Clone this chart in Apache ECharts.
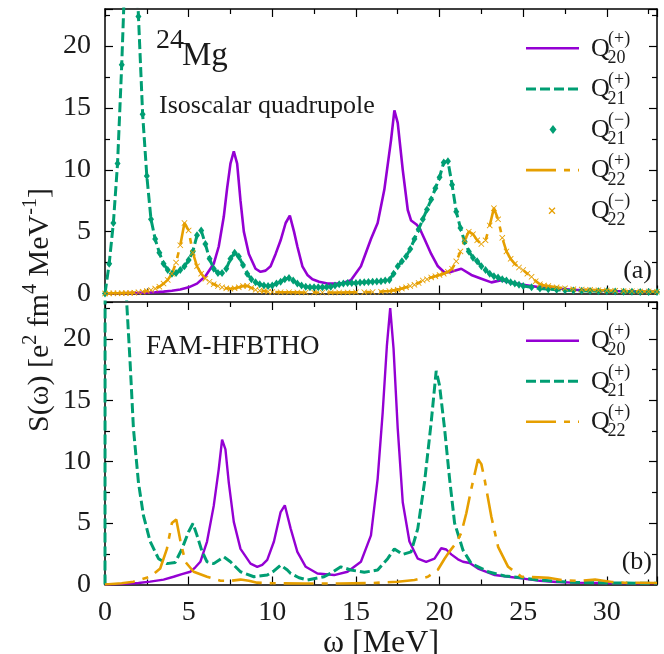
<!DOCTYPE html>
<html><head><meta charset="utf-8">
<script src="https://cdn.jsdelivr.net/npm/echarts@6/dist/echarts.min.js"></script>
<style>html,body{margin:0;padding:0;background:#fff}#c{width:664px;height:654px}</style>
</head><body><div id="c"></div>
<script>
// ---------- data (omega [MeV], S) ----------
// panel (a)
const q20a = [[0,0],[1,0.02],[2,0.05],[3,0.1],[3.5,0.15],[4,0.22],[4.5,0.32],[5,0.5],[5.5,0.8],[6,1.4],[6.5,2.4],[6.8,3.8],[7.1,6.2],[7.3,8.5],[7.5,10.5],[7.7,11.5],[7.9,10.5],[8.1,7.5],[8.3,5.0],[8.6,3.2],[9,2.0],[9.3,1.75],[9.6,1.85],[9.9,2.2],[10.2,3.2],[10.5,4.3],[10.8,5.7],[11.05,6.3],[11.3,5.0],[11.5,3.8],[11.8,2.2],[12.1,1.5],[12.4,1.15],[12.8,0.95],[13.3,0.8],[14.1,0.8],[14.7,1.08],[15.3,2.2],[15.9,4.4],[16.3,5.7],[16.7,8.4],[17.1,12.4],[17.3,14.8],[17.5,13.8],[17.8,10.0],[18.1,6.75],[18.3,5.9],[18.6,5.6],[18.8,5.3],[19.1,4.4],[19.5,3.2],[19.9,2.2],[20.3,1.7],[20.7,1.75],[21.3,2.0],[21.9,1.5],[22.5,1.2],[23.1,0.9],[23.7,1.08],[24.2,0.9],[25,0.7],[26,0.5],[27,0.4],[28,0.3],[29,0.25],[30,0.2],[31,0.18],[32,0.15],[33,0.13]];
const q21a = [[0,0],[0.25,2.4],[0.5,5.7],[0.75,10.5],[1,18.5],[1.25,28],[1.5,34],[1.75,30],[2,22.4],[2.25,14.5],[2.5,9.5],[2.75,6.0],[3,4.4],[3.25,3.3],[3.5,2.4],[3.75,1.9],[4,1.6],[4.25,1.65],[4.5,1.9],[4.75,2.2],[5,2.7],[5.25,3.4],[5.5,4.7],[5.75,5.1],[6,4.0],[6.25,2.8],[6.5,2.0],[6.75,1.65],[7,1.65],[7.25,2.0],[7.5,2.8],[7.75,3.3],[8,3.0],[8.25,2.3],[8.5,1.6],[8.75,1.15],[9,0.9],[9.25,0.75],[9.5,0.65],[9.75,0.6],[10,0.65],[10.25,0.8],[10.5,0.95],[10.75,1.15],[11,1.25],[11.25,1.05],[11.5,0.8],[11.75,0.65],[12,0.55],[12.25,0.5],[12.5,0.5],[12.75,0.5],[13,0.5],[13.25,0.52],[13.5,0.55],[13.75,0.65],[14,0.75],[14.25,0.8],[14.5,0.85],[14.75,0.85],[15,0.85],[15.25,0.88],[15.5,0.9],[15.75,0.92],[16,0.95],[16.25,0.97],[16.5,1.0],[16.75,1.05],[17,1.1],[17.25,1.6],[17.5,2.2],[17.75,2.6],[18,3.0],[18.25,3.6],[18.5,4.4],[18.75,5.2],[19,6.0],[19.25,6.8],[19.5,7.6],[19.75,8.5],[20,9.4],[20.25,10.6],[20.5,10.7],[20.75,8.8],[21,6.6],[21.25,5.3],[21.5,4.2],[21.75,3.4],[22,2.9],[22.25,2.6],[22.5,2.2],[22.75,1.9],[23,1.6],[23.25,1.4],[23.5,1.3],[23.75,1.15],[24,1.05],[24.25,0.9],[24.5,0.8],[24.75,0.7],[25,0.6],[25.5,0.5],[26,0.4],[26.5,0.35],[27,0.3],[27.5,0.27],[28,0.25],[28.5,0.22],[29,0.2],[29.5,0.19],[30,0.18],[30.5,0.17],[31,0.15],[31.5,0.14],[32,0.13],[32.5,0.12],[33,0.12]];
const q21aMinus = q21a; // Q21(-) coincides with Q21(+)
const q22a = [[0,0],[0.25,0.01],[0.5,0.02],[0.75,0.02],[1,0.03],[1.25,0.04],[1.5,0.05],[1.75,0.07],[2,0.1],[2.25,0.14],[2.5,0.2],[2.75,0.28],[3,0.4],[3.25,0.55],[3.5,0.8],[3.75,1.1],[4,1.6],[4.25,2.5],[4.5,3.9],[4.75,5.7],[5,5.1],[5.25,3.3],[5.5,2.2],[5.75,1.6],[6,1.2],[6.25,0.95],[6.5,0.75],[6.75,0.6],[7,0.5],[7.25,0.42],[7.5,0.38],[7.75,0.42],[8,0.5],[8.25,0.6],[8.5,0.62],[8.75,0.45],[9,0.3],[9.25,0.24],[9.5,0.2],[9.75,0.15],[10,0.12],[10.5,0.1],[11,0.1],[11.5,0.09],[12,0.08],[12.5,0.08],[13,0.08],[13.5,0.08],[14,0.08],[14.5,0.09],[15,0.1],[15.5,0.11],[16,0.12],[16.5,0.15],[17,0.2],[17.25,0.25],[17.5,0.3],[17.75,0.4],[18,0.5],[18.25,0.6],[18.5,0.7],[18.75,0.85],[19,1.05],[19.25,1.15],[19.5,1.3],[19.75,1.4],[20,1.5],[20.25,1.6],[20.5,1.75],[20.75,2.0],[21,2.6],[21.25,3.4],[21.5,4.3],[21.75,5.0],[22,4.8],[22.25,4.3],[22.5,4.0],[22.75,4.3],[23,5.5],[23.25,6.9],[23.5,6.0],[23.75,4.5],[24,3.4],[24.25,2.8],[24.5,2.4],[24.75,2.1],[25,1.9],[25.25,1.6],[25.5,1.35],[25.75,1.0],[26,0.75],[26.25,0.65],[26.5,0.6],[27,0.5],[27.5,0.42],[28,0.35],[28.5,0.32],[29,0.3],[29.5,0.27],[30,0.25],[30.5,0.22],[31,0.2],[31.5,0.18],[32,0.17],[32.5,0.16],[33,0.15]];
const q22aMinus = q22a; // Q22(-) coincides with Q22(+)
// panel (b)
const q20b = [[0,0],[1,0.05],[2,0.12],[2.7,0.23],[3.5,0.4],[4.1,0.63],[4.6,0.85],[5.1,1.04],[5.4,1.4],[5.7,1.85],[6.1,3.5],[6.5,6.4],[6.8,9.4],[7.0,11.8],[7.2,11.0],[7.4,8.3],[7.7,5.1],[8.1,2.9],[8.7,1.7],[9.1,1.44],[9.4,1.6],[9.7,2.0],[10.1,3.5],[10.5,5.9],[10.75,6.45],[11.1,4.55],[11.5,2.66],[12.0,1.44],[12.7,0.9],[13.7,0.77],[14.5,1.04],[15.3,1.85],[15.9,4.0],[16.3,8.6],[16.6,14.0],[16.85,19.4],[17.05,22.5],[17.25,19.2],[17.5,12.7],[17.8,6.7],[18.2,3.5],[18.7,2.1],[19.2,1.85],[19.7,2.1],[20.1,2.95],[20.4,2.85],[20.7,2.45],[21.1,2.05],[21.4,1.85],[21.8,1.75],[22.3,1.3],[23.3,0.77],[24.0,0.65],[24.9,0.5],[26,0.3],[27,0.2],[28,0.15],[30,0.12],[33,0.1]];
const q21b = [[0,0],[0.05,200],[0.5,90],[1.0,38],[1.3,22.9],[1.5,18.1],[1.7,12.7],[2.0,8.3],[2.3,5.6],[2.7,3.5],[3.2,2.1],[3.7,1.7],[4.2,1.8],[4.6,2.9],[5.0,4.3],[5.26,4.96],[5.5,4.0],[5.8,2.7],[6.1,1.85],[6.5,1.7],[7.1,2.25],[7.5,1.85],[8.1,1.04],[8.9,0.63],[9.7,0.77],[10.1,1.1],[10.5,1.58],[10.9,1.18],[11.1,0.9],[11.6,0.55],[12.1,0.36],[13.1,0.63],[13.6,1.0],[14.1,1.44],[14.7,1.18],[15.5,0.99],[16.3,1.18],[16.9,2.1],[17.3,2.9],[17.8,2.45],[18.3,2.66],[18.7,4.55],[19.1,8.3],[19.5,13.2],[19.8,17.4],[20.0,16.2],[20.3,12.7],[20.6,8.6],[20.9,5.0],[21.4,2.8],[21.9,1.7],[22.9,1.04],[23.9,0.69],[24.9,0.55],[25.9,0.36],[27.9,0.18],[30,0.12],[33,0.1]];
const q22b = [[0,0],[1,0.1],[1.7,0.23],[2.7,0.63],[3.3,1.3],[3.7,2.9],[4.0,5.0],[4.26,5.3],[4.5,3.6],[4.8,1.85],[5.3,1.04],[6.1,0.63],[6.9,0.31],[7.5,0.3],[8.1,0.4],[8.6,0.3],[9.1,0.15],[10,0.1],[12,0.08],[14,0.08],[16,0.12],[17.5,0.23],[18.5,0.36],[19.3,0.63],[19.9,1.2],[20.3,2.1],[20.6,2.7],[21.0,3.4],[21.3,4.2],[21.6,5.8],[21.9,7.8],[22.1,9.0],[22.3,10.2],[22.5,9.8],[22.7,8.5],[23.1,5.5],[23.5,3.07],[24.1,1.44],[24.9,0.63],[25.9,0.58],[26.5,0.55],[27.3,0.36],[28.3,0.3],[29.3,0.4],[30.3,0.2],[31,0.15],[33,0.12]];

const xRange = [0, 33], xStep = 5;
const yRange = [0, 23], yStep = 5;

// ---------- style ----------
const FONT = '"Liberation Serif","DejaVu Serif",serif';
const TXT = '#1a1a1a';
const C20 = '#9400D3', C21 = '#009E73', C22 = '#E69F00';
const DASH21 = [10, 4], DASH22 = [30, 8, 6, 8];
const CROSS = 'path://M0,1L1,0L5,4L9,0L10,1L6,5L10,9L9,10L5,6L1,10L0,9L4,5Z';

function xAx(gi, pos, labels, extra) {
  return Object.assign({
    type: 'value', gridIndex: gi, position: pos, min: xRange[0], max: xRange[1], interval: xStep,
    axisLine: {show: true, onZero: false, lineStyle: {color: '#000', width: 1.5}},
    axisTick: {show: true, inside: true, length: 8, lineStyle: {color: '#000', width: 1.2}},
    minorTick: {show: true, splitNumber: 2, length: 5, lineStyle: {color: '#000', width: 1.2}},
    splitLine: {show: false},
    axisLabel: {show: labels, margin: 14, fontFamily: FONT, fontSize: 28, color: TXT, showMaxLabel: false}
  }, extra || {});
}
function yAx(gi, pos, labels) {
  return {
    type: 'value', gridIndex: gi, position: pos, min: yRange[0], max: yRange[1], interval: yStep,
    axisLine: {show: true, onZero: false, lineStyle: {color: '#000', width: 1.5}},
    axisTick: {show: true, inside: true, length: 8, lineStyle: {color: '#000', width: 1.2}},
    minorTick: {show: true, splitNumber: 2, length: 5, lineStyle: {color: '#000', width: 1.2}},
    splitLine: {show: false},
    axisLabel: {show: labels, margin: 14, fontFamily: FONT, fontSize: 28, color: TXT, showMaxLabel: false}
  };
}
function line(name, data, gi, color, dash, width) {
  return {name, type: 'line', data, xAxisIndex: gi * 2, yAxisIndex: gi * 2, showSymbol: false, symbol: 'none',
    clip: true, smooth: false, lineStyle: {color, width, type: dash || 'solid', cap: 'butt'}, itemStyle: {color}, z: 2};
}
function pts(name, data, gi, color, symbol, size) {
  return {name, type: 'scatter', data, xAxisIndex: gi * 2, yAxisIndex: gi * 2, symbol, symbolSize: size,
    clip: true, itemStyle: {color, opacity: 1}, z: 3};
}

// ---------- legend (drawn as graphics) ----------
const legendRowsA = [
  {y: 48.3, kind: 'line', color: C20, dash: null, sup: '(+)', sub: '20'},
  {y: 88.9, kind: 'line', color: C21, dash: DASH21, sup: '(+)', sub: '21'},
  {y: 129.5, kind: 'diamond', color: C21, sup: '(\u2212)', sub: '21'},
  {y: 170.1, kind: 'line', color: C22, dash: DASH22, sup: '(+)', sub: '22'},
  {y: 210.7, kind: 'cross', color: C22, sup: '(\u2212)', sub: '22'}
];
const legendRowsB = [
  {y: 340.7, kind: 'line', color: C20, dash: null, sup: '(+)', sub: '20'},
  {y: 381.2, kind: 'line', color: C21, dash: DASH21, sup: '(+)', sub: '21'},
  {y: 421.7, kind: 'line', color: C22, dash: DASH22, sup: '(+)', sub: '22'}
];
function legendGraphics(rows) {
  const out = [];
  rows.forEach(r => {
    if (r.kind === 'line') {
      out.push({type: 'line', shape: {x1: 526, y1: r.y, x2: 579, y2: r.y},
        style: {stroke: r.color, lineWidth: r.color === C21 ? 3 : 2.6, lineDash: r.dash || null}});
    } else if (r.kind === 'diamond') {
      const cx = 553, cy = r.y;
      out.push({type: 'polygon', shape: {points: [[cx, cy - 4.5], [cx + 3.5, cy], [cx, cy + 4.5], [cx - 3.5, cy]]},
        style: {fill: r.color}});
    } else {
      const cx = 552, cy = r.y, d = 3;
      out.push({type: 'line', shape: {x1: cx - d, y1: cy - d, x2: cx + d, y2: cy + d}, style: {stroke: r.color, lineWidth: 1.3}});
      out.push({type: 'line', shape: {x1: cx - d, y1: cy + d, x2: cx + d, y2: cy - d}, style: {stroke: r.color, lineWidth: 1.3}});
    }
    out.push({type: 'text', x: 591, y: r.y + 0.5, style: {text: 'Q', font: '26px ' + FONT, fill: TXT, align: 'left', verticalAlign: 'middle'}});
    out.push({type: 'text', x: 608, y: r.y - 9, style: {text: r.sup, font: '18px ' + FONT, fill: TXT, align: 'left', verticalAlign: 'middle'}});
    out.push({type: 'text', x: 607.5, y: r.y + 10, style: {text: r.sub, font: '18px ' + FONT, fill: TXT, align: 'left', verticalAlign: 'middle'}});
  });
  return out;
}

const texts = [
  {type: 'text', x: 156, y: 40.5, style: {text: '24', font: '28px ' + FONT, fill: TXT, verticalAlign: 'middle'}},
  {type: 'text', x: 182, y: 56, style: {text: 'Mg', font: '33px ' + FONT, fill: TXT, verticalAlign: 'middle'}},
  {type: 'text', x: 159, y: 106.5, style: {text: 'Isoscalar quadrupole', font: '26px ' + FONT, fill: TXT, verticalAlign: 'middle'}},
  {type: 'text', x: 146, y: 346.5, style: {text: 'FAM-HFBTHO', font: '27px ' + FONT, fill: TXT, verticalAlign: 'middle'}},
  {type: 'text', x: 652, y: 271, style: {text: '(a)', font: '26px ' + FONT, fill: TXT, align: 'right', verticalAlign: 'middle'}},
  {type: 'text', x: 652, y: 562, style: {text: '(b)', font: '26px ' + FONT, fill: TXT, align: 'right', verticalAlign: 'middle'}},
  {type: 'text', x: 40, y: 310, rotation: Math.PI / 2, style: {
    text: '{n|S(\u03c9) [e}{s|2}{n| fm}{s|4}{n| MeV}{s|-1}{n|]}',
    align: 'center', verticalAlign: 'middle', fill: TXT,
    rich: {
      n: {fontFamily: FONT, fontSize: 30, lineHeight: 38, fill: TXT, verticalAlign: 'middle'},
      s: {fontFamily: FONT, fontSize: 20, lineHeight: 20, fill: TXT, verticalAlign: 'top'}
    }}}
];

const option = {
  animation: false,
  backgroundColor: '#fff',
  grid: [
    {left: 105, top: 9, width: 552, height: 284.5, containLabel: false, outerBoundsMode: 'none'},
    {left: 105, top: 302, width: 552, height: 282.5, containLabel: false, outerBoundsMode: 'none'}
  ],
  xAxis: [
    xAx(0, 'bottom', false),
    xAx(0, 'top', false),
    xAx(1, 'bottom', true, {name: '\u03c9 [MeV]', nameLocation: 'middle', nameGap: 36,
      nameTextStyle: {fontFamily: FONT, fontSize: 32, color: TXT}}),
    xAx(1, 'top', false)
  ],
  yAxis: [
    yAx(0, 'left', true), yAx(0, 'right', false),
    yAx(1, 'left', true), yAx(1, 'right', false)
  ],
  series: [
    line('Q20+ (a)', q20a, 0, C20, null, 2.6),
    line('Q21+ (a)', q21a, 0, C21, DASH21, 3),
    pts('Q21- (a)', q21aMinus, 0, C21, 'diamond', [6, 8]),
    line('Q22+ (a)', q22a, 0, C22, DASH22, 2.6),
    pts('Q22- (a)', q22aMinus, 0, C22, CROSS, 6),
    line('Q20+ (b)', q20b, 1, C20, null, 2.4),
    line('Q21+ (b)', q21b, 1, C21, DASH21, 3),
    line('Q22+ (b)', q22b, 1, C22, DASH22, 2.6)
  ],
  graphic: legendGraphics(legendRowsA).concat(legendGraphics(legendRowsB)).concat(texts)
};
const chart = echarts.init(document.getElementById('c'), null, {renderer: 'canvas'});
chart.setOption(option);
</script></body></html>
